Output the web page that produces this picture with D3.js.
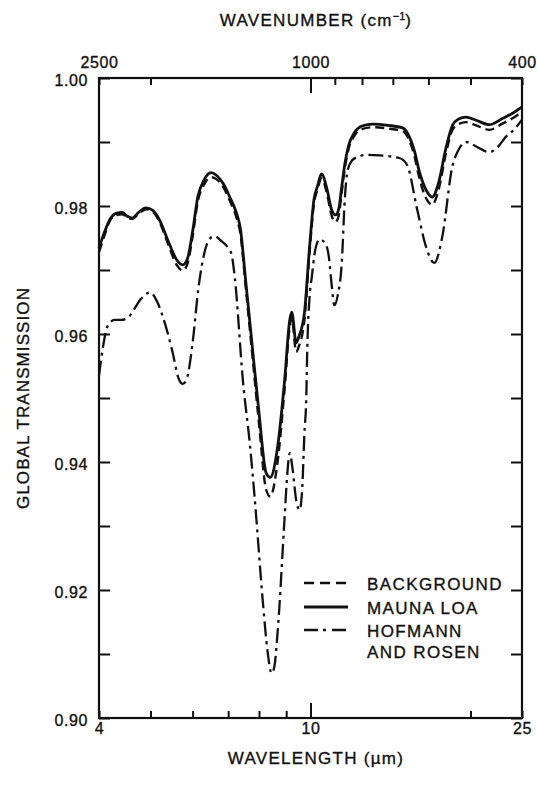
<!DOCTYPE html>
<html>
<head>
<meta charset="utf-8">
<script src="https://cdn.jsdelivr.net/npm/d3@7"></script>
<style>
  html, body { margin: 0; padding: 0; background: #fff; }
  svg { display: block; }
  text { font-family: "Liberation Sans", Arial, Helvetica, sans-serif; fill: #111; stroke: #111; stroke-width: 0.35px; }
</style>
</head>
<body>
<svg id="chart" width="537" height="785"></svg>
<script>
// Global transmission vs. wavelength (µm) for three aerosol cases.
const backgroundWave = [4.00,4.10,4.20,4.32,4.42,4.52,4.62,4.75,4.90,5.05,5.20,5.40,5.60,5.75,5.87,6.00,6.14,6.30,6.50,6.65,6.85,7.05,7.25,7.38,7.55,7.75,8.00,8.25,8.40,8.67,8.94,9.14,9.22,9.40,9.50,9.74,9.96,10.15,10.30,10.49,10.75,10.95,11.15,11.30,11.45,11.60,11.80,12.10,12.50,13.10,14.00,14.90,15.35,15.70,16.00,16.50,16.95,17.40,18.00,18.50,19.00,19.60,20.50,21.70,23.00,24.00,25.00];
const backgroundTrans = [0.9728,0.9755,0.9778,0.9786,0.9787,0.9782,0.9780,0.9788,0.9795,0.9791,0.9775,0.9740,0.9708,0.9699,0.9710,0.9752,0.9808,0.9833,0.9845,0.9842,0.9830,0.9808,0.9783,0.9757,0.9675,0.9578,0.9460,0.9357,0.9346,0.9400,0.9515,0.9612,0.9625,0.9572,0.9580,0.9622,0.9728,0.9803,0.9825,0.9843,0.9818,0.9786,0.9775,0.9785,0.9822,0.9858,0.9890,0.9910,0.9920,0.9923,0.9921,0.9917,0.9902,0.9877,0.9846,0.9812,0.9802,0.9824,0.9884,0.9919,0.9928,0.9931,0.9926,0.9919,0.9929,0.9937,0.9947];

const maunaLoaWave = [4.00,4.10,4.20,4.32,4.42,4.52,4.62,4.75,4.90,5.05,5.20,5.40,5.60,5.75,5.87,6.00,6.14,6.30,6.50,6.65,6.85,7.05,7.25,7.38,7.55,7.75,8.00,8.25,8.40,8.67,8.94,9.14,9.22,9.40,9.50,9.74,9.96,10.15,10.30,10.49,10.75,10.95,11.15,11.30,11.45,11.60,11.80,12.10,12.50,13.10,14.00,14.90,15.35,15.70,16.00,16.50,16.95,17.40,18.00,18.50,19.00,19.60,20.50,21.70,23.00,24.00,25.00];
const maunaLoaTrans = [0.9734,0.9760,0.9780,0.9789,0.9790,0.9784,0.9781,0.9790,0.9797,0.9793,0.9778,0.9745,0.9716,0.9708,0.9718,0.9760,0.9815,0.9840,0.9852,0.9848,0.9835,0.9814,0.9790,0.9765,0.9684,0.9590,0.9477,0.9383,0.9376,0.9423,0.9528,0.9622,0.9634,0.9586,0.9595,0.9633,0.9736,0.9810,0.9830,0.9850,0.9825,0.9795,0.9786,0.9795,0.9830,0.9865,0.9895,0.9915,0.9925,0.9928,0.9926,0.9922,0.9908,0.9885,0.9856,0.9825,0.9814,0.9835,0.9892,0.9926,0.9936,0.9939,0.9934,0.9927,0.9937,0.9945,0.9955];

const hofmannWave = [4.00,4.07,4.15,4.28,4.40,4.53,4.65,4.80,4.99,5.15,5.32,5.50,5.65,5.75,5.85,6.00,6.15,6.32,6.45,6.60,6.80,6.98,7.10,7.20,7.46,7.70,7.85,8.13,8.30,8.45,8.55,8.67,8.94,9.05,9.14,9.25,9.40,9.54,9.65,9.74,9.82,9.86,9.96,10.06,10.20,10.40,10.65,10.83,10.95,11.09,11.25,11.46,11.60,11.75,12.00,12.40,12.74,13.50,14.69,15.20,15.88,16.50,17.10,17.70,18.48,19.00,19.63,20.50,21.68,22.50,23.30,24.20,25.00];
const hofmannTrans = [0.9535,0.9580,0.9612,0.9622,0.9622,0.9625,0.9638,0.9655,0.9665,0.9650,0.9617,0.9572,0.9530,0.9522,0.9530,0.9586,0.9670,0.9728,0.9748,0.9753,0.9745,0.9736,0.9725,0.9690,0.9528,0.9423,0.9345,0.9184,0.9105,0.9070,0.9080,0.9133,0.9314,0.9385,0.9414,0.9390,0.9340,0.9325,0.9360,0.9445,0.9502,0.9575,0.9658,0.9690,0.9730,0.9748,0.9742,0.9720,0.9680,0.9645,0.9660,0.9716,0.9810,0.9856,0.9872,0.9878,0.9880,0.9879,0.9875,0.9864,0.9794,0.9736,0.9711,0.9752,0.9861,0.9888,0.9900,0.9893,0.9884,0.9892,0.9908,0.9920,0.9935];

// Axis ticks and labels
const wavelengthTicks = [4, 5, 6, 7, 8, 9, 10, 20, 25];
const wavelengthLabels = [4, 10, 25];
const wavenumberTicks = [2500, 2000, 1000, 900, 800, 700, 600, 500, 400];
const wavenumberLabels = [2500, 1000, 400];
const transTicks = [0.90,0.91,0.92,0.93,0.94,0.95,0.96,0.97,0.98,0.99,1.00];
const transLabels = ["0.90","0.92","0.94","0.96","0.98","1.00"];

const legendNames = [["BACKGROUND"], ["MAUNA LOA"], ["HOFMANN", "AND ROSEN"]];

const svg = d3.select("#chart");
const plotLeft = 99, plotRight = 522, plotTop = 78, plotBottom = 718;

const x = d3.scaleLog().domain([4, 25]).range([plotLeft, plotRight]);
const xTop = d3.scaleLog().domain([2500, 400]).range([plotLeft, plotRight]);
const y = d3.scaleLinear().domain([0.90, 1.00]).range([plotBottom, plotTop]);

const ink = "#111";

// Bottom axis: wavelength
const gBottom = svg.append("g")
  .attr("transform", `translate(0,${plotBottom})`)
  .call(d3.axisBottom(x)
    .tickValues(wavelengthTicks)
    .tickFormat(d => wavelengthLabels.includes(d) ? String(d) : "")
    .tickSizeInner(-7).tickSizeOuter(0).tickPadding(5));
gBottom.selectAll(".tick line").filter(d => d === 10).attr("y2", -15);

// Top axis: wavenumber
const gTop = svg.append("g")
  .attr("transform", `translate(0,${plotTop})`)
  .call(d3.axisTop(xTop)
    .tickValues(wavenumberTicks)
    .tickFormat(d => wavenumberLabels.includes(d) ? String(d) : "")
    .tickSizeInner(-7).tickSizeOuter(0).tickPadding(10));
gTop.selectAll(".tick line").filter(d => d === 1000).attr("y2", 15);

// Left axis: transmission
const gLeft = svg.append("g")
  .attr("transform", `translate(${plotLeft},0)`)
  .call(d3.axisLeft(y)
    .tickValues(transTicks)
    .tickFormat(d => { const s = d.toFixed(2); return transLabels.includes(s) ? s : ""; })
    .tickSizeInner(-11).tickSizeOuter(0).tickPadding(11));
gLeft.selectAll(".tick text").attr("dy", "0.45em");

// Right axis: ticks only
svg.append("g")
  .attr("transform", `translate(${plotRight},0)`)
  .call(d3.axisRight(y)
    .tickValues(transTicks)
    .tickFormat("")
    .tickSizeInner(-11).tickSizeOuter(0));

svg.selectAll(".domain").remove();
svg.selectAll(".tick line").attr("stroke", ink).attr("stroke-width", 2);
svg.selectAll(".tick text")
  .attr("fill", ink)
  .style("font-size", "16px")
  .style("letter-spacing", "0.6px")
  .style("font-family", "'Liberation Sans', Arial, Helvetica, sans-serif");

// Plot frame
svg.append("rect")
  .attr("x", plotLeft).attr("y", plotTop)
  .attr("width", plotRight - plotLeft).attr("height", plotBottom - plotTop)
  .attr("fill", "none").attr("stroke", ink).attr("stroke-width", 2.2);

// Curves
const line = d3.line()
  .x(d => x(d[0]))
  .y(d => y(d[1]))
  .curve(d3.curveMonotoneX);

const series = [
  { wave: hofmannWave, trans: hofmannTrans, dash: "15,5,3,5", width: 2.3 },
  { wave: backgroundWave, trans: backgroundTrans, dash: "9,5", width: 2.4 },
  { wave: maunaLoaWave, trans: maunaLoaTrans, dash: null, width: 2.8 }
];

series.forEach(s => {
  svg.append("path")
    .datum(s.wave.map((w, i) => [w, s.trans[i]]))
    .attr("d", line)
    .attr("fill", "none")
    .attr("stroke", ink)
    .attr("stroke-width", s.width)
    .attr("stroke-linejoin", "round")
    .attr("stroke-dasharray", s.dash);
});

// Legend
const legendStyles = [
  { dash: "10,6", width: 2.4 },
  { dash: null, width: 2.8 },
  { dash: "14,5,3,6", width: 2.3 }
];
const legendY = [583, 607, 630];
legendStyles.forEach((st, i) => {
  svg.append("line")
    .attr("x1", 304).attr("x2", 348)
    .attr("y1", legendY[i]).attr("y2", legendY[i])
    .attr("stroke", ink).attr("stroke-width", st.width)
    .attr("stroke-dasharray", st.dash);
  legendNames[i].forEach((t, j) => {
    svg.append("text")
      .attr("x", 367).attr("y", legendY[i] + 7 + j * 21)
      .style("font-size", "17px")
      .style("letter-spacing", "1.4px")
      .text(t);
  });
});

// Axis titles
const topTitle = svg.append("text")
  .attr("x", 316).attr("y", 26)
  .attr("text-anchor", "middle")
  .style("font-size", "17px")
  .style("letter-spacing", "1.3px");
topTitle.append("tspan").text("WAVENUMBER (cm");
topTitle.append("tspan").attr("dy", -6).style("font-size", "11px").style("letter-spacing", "0px").text("−1");
topTitle.append("tspan").attr("dy", 6).text(")");

svg.append("text")
  .attr("x", 316).attr("y", 764)
  .attr("text-anchor", "middle")
  .style("font-size", "17px")
  .style("letter-spacing", "1.3px")
  .text("WAVELENGTH (µm)");

svg.append("text")
  .attr("transform", "translate(29,398) rotate(-90)")
  .attr("text-anchor", "middle")
  .style("font-size", "17px")
  .style("letter-spacing", "1.1px")
  .text("GLOBAL TRANSMISSION");
</script>
</body>
</html>
